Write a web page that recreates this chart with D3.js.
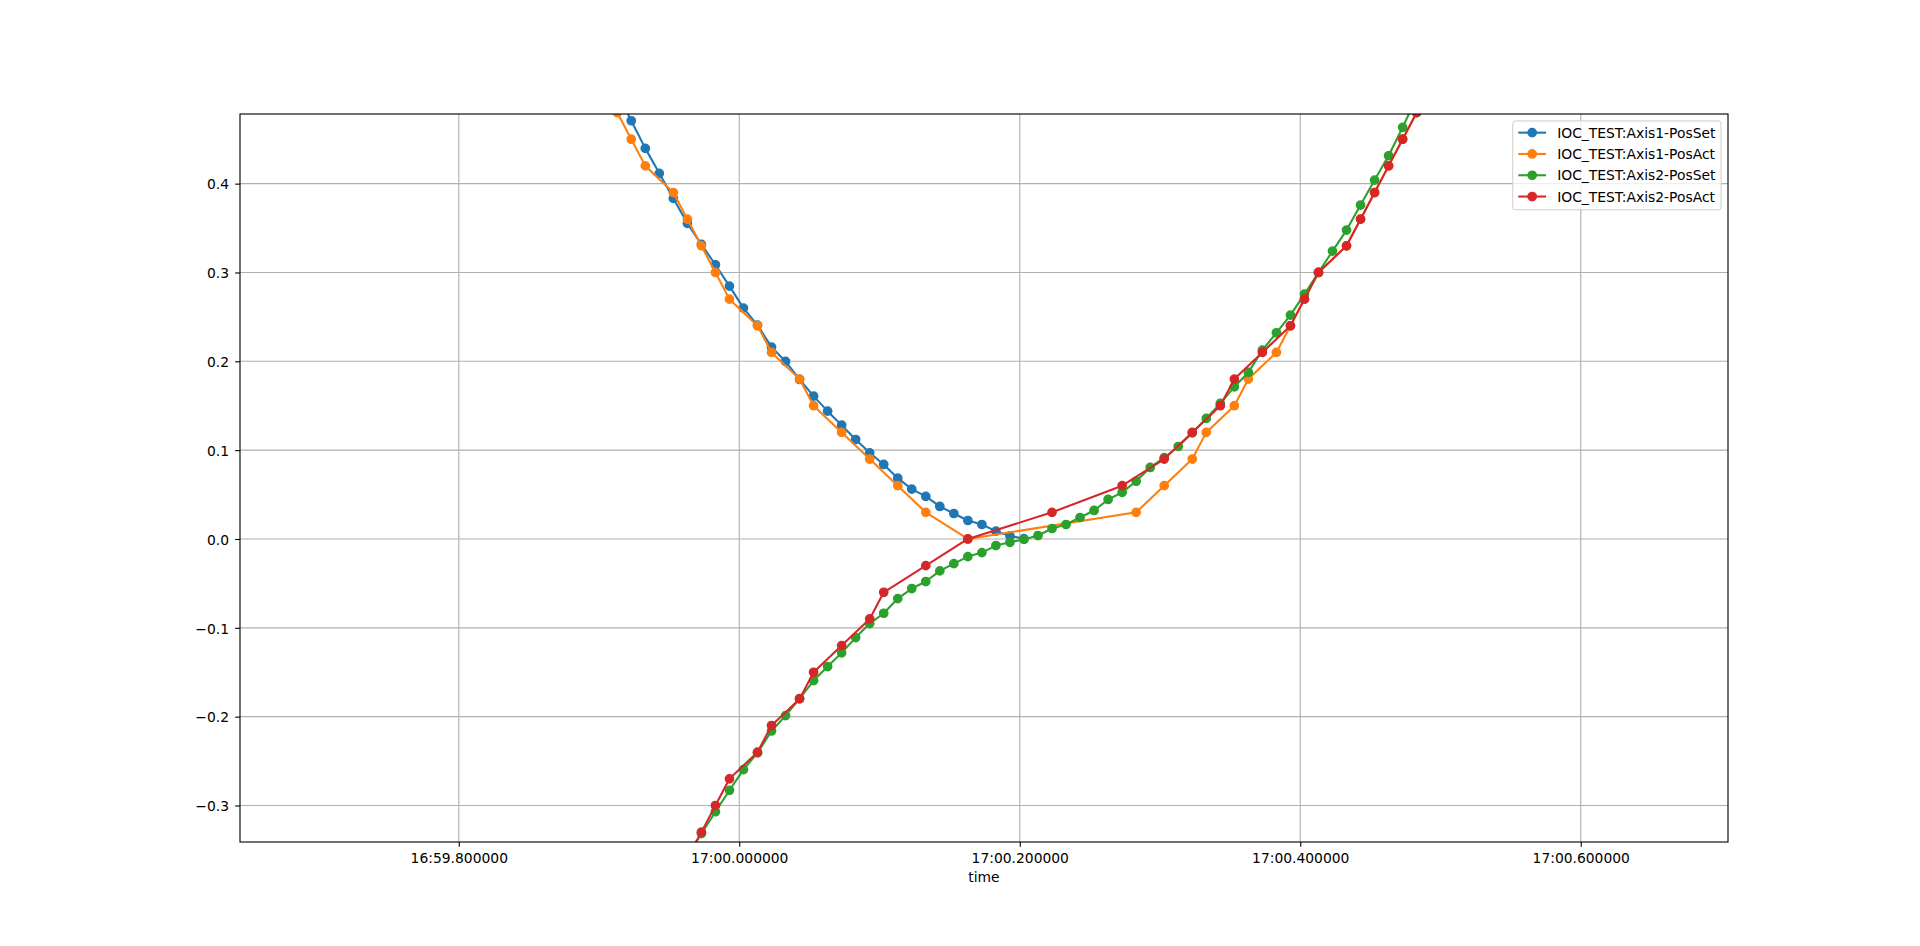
<!DOCTYPE html>
<html>
<head>
<meta charset="utf-8">
<script src="https://cdn.jsdelivr.net/npm/d3@7"></script>
<style>
html,body{margin:0;padding:0;background:#ffffff;}
svg{display:block;font-family:"DejaVu Sans",sans-serif;}
</style>
</head>
<body>
<svg id="chart" width="1920" height="946"></svg>
<script>
// ---------------- DATA ----------------
const seriesNames = ["IOC_TEST:Axis1-PosSet", "IOC_TEST:Axis1-PosAct", "IOC_TEST:Axis2-PosSet", "IOC_TEST:Axis2-PosAct"];
const seriesColors = ["#1f77b4", "#ff7f0e", "#2ca02c", "#d62728"];

const axis1PosSetTimes = ["16:59.913","16:59.923","16:59.933","16:59.943","16:59.953","16:59.963","16:59.973","16:59.983","16:59.993",
  "17:00.003","17:00.013","17:00.023","17:00.033","17:00.043","17:00.053","17:00.063","17:00.073","17:00.083","17:00.093",
  "17:00.103","17:00.113","17:00.123","17:00.133","17:00.143","17:00.153","17:00.163","17:00.173","17:00.183","17:00.193","17:00.203"];
const axis1PosSetValues = [0.503, 0.4708, 0.4397, 0.4116, 0.3834, 0.3553, 0.3316, 0.3087, 0.2847,
  0.2599, 0.2408, 0.2160, 0.1999, 0.1796, 0.1608, 0.1439, 0.1281, 0.1120, 0.0970,
  0.0839, 0.0685, 0.0561, 0.0479, 0.0366, 0.0287, 0.0208, 0.0163, 0.0088, 0.0035, 0.0003];

const axis1PosActTimes = ["16:59.903","16:59.913","16:59.923","16:59.933","16:59.953","16:59.963","16:59.973","16:59.983","16:59.993",
  "17:00.013","17:00.023","17:00.043","17:00.053","17:00.073","17:00.093","17:00.113","17:00.133","17:00.163",
  "17:00.283","17:00.303","17:00.323","17:00.333","17:00.353","17:00.363","17:00.383",
  "17:00.393","17:00.403","17:00.413","17:00.433","17:00.443","17:00.453","17:00.463","17:00.473","17:00.483","17:00.493"];
const axis1PosActValues = [0.51, 0.48, 0.45, 0.42, 0.39, 0.36, 0.33, 0.30, 0.27,
  0.24, 0.21, 0.18, 0.15, 0.12, 0.09, 0.06, 0.03, 0.00,
  0.03, 0.06, 0.09, 0.12, 0.15, 0.18, 0.21,
  0.24, 0.27, 0.30, 0.33, 0.36, 0.39, 0.42, 0.45, 0.48, 0.51];

const axis2PosSetTimes = ["16:59.963","16:59.973","16:59.983","16:59.993",
  "17:00.003","17:00.013","17:00.023","17:00.033","17:00.043","17:00.053","17:00.063","17:00.073","17:00.083","17:00.093",
  "17:00.103","17:00.113","17:00.123","17:00.133","17:00.143","17:00.153","17:00.163","17:00.173","17:00.183","17:00.193",
  "17:00.203","17:00.213","17:00.223","17:00.233","17:00.243","17:00.253","17:00.263","17:00.273","17:00.283","17:00.293",
  "17:00.303","17:00.313","17:00.323","17:00.333","17:00.343","17:00.353","17:00.363","17:00.373","17:00.383","17:00.393",
  "17:00.403","17:00.413","17:00.423","17:00.433","17:00.443","17:00.453","17:00.463","17:00.473","17:00.483"];
const axis2PosSetValues = [-0.3553, -0.3316, -0.3070, -0.2829,
  -0.2596, -0.2408, -0.2161, -0.1988, -0.1796, -0.1594, -0.1436, -0.1282, -0.1110, -0.0952,
  -0.0836, -0.0671, -0.0558, -0.0479, -0.0359, -0.0277, -0.0198, -0.0153, -0.0074, -0.0037,
  -0.0005, 0.0039, 0.0118, 0.0163, 0.0242, 0.0321, 0.0445, 0.0524, 0.0650, 0.0805,
  0.0915, 0.1041, 0.1195, 0.1357, 0.1526, 0.1713, 0.1875, 0.2126, 0.2321, 0.2520,
  0.2757, 0.3000, 0.3241, 0.3477, 0.3759, 0.4040, 0.4314, 0.4634, 0.4970];

const axis2PosActTimes = ["16:59.963","16:59.973","16:59.983","16:59.993",
  "17:00.013","17:00.023","17:00.043","17:00.053","17:00.073","17:00.093","17:00.103","17:00.133","17:00.163",
  "17:00.223","17:00.273","17:00.303","17:00.323","17:00.343","17:00.353","17:00.373",
  "17:00.393","17:00.403","17:00.413","17:00.433","17:00.443","17:00.453","17:00.463","17:00.473","17:00.483","17:00.493"];
const axis2PosActValues = [-0.36, -0.33, -0.30, -0.27,
  -0.24, -0.21, -0.18, -0.15, -0.12, -0.09, -0.06, -0.03, 0.00,
  0.03, 0.06, 0.09, 0.12, 0.15, 0.18, 0.21,
  0.24, 0.27, 0.30, 0.33, 0.36, 0.39, 0.42, 0.45, 0.48, 0.51];

const xTickLabels = ["16:59.800000", "17:00.000000", "17:00.200000", "17:00.400000", "17:00.600000"];
const yTickValues = [-0.3, -0.2, -0.1, 0.0, 0.1, 0.2, 0.3, 0.4];
const xDomainLabels = ["16:59.644300", "17:00.705600"];
const yDomain = [-0.3411, 0.4784];
const xAxisLabel = "time";

// ---------------- LAYOUT ----------------
const W = 1920, H = 946;
const plot = {left: 240, top: 114, right: 1728, bottom: 842};
const FS = 13.89;
const pt = 100 / 72;

const parseT = d3.utcParse("%M:%S.%L");
const parseTick = d3.utcParse("%M:%S.%f");
const fmtTick = d3.utcFormat("%M:%S.%f");

const x = d3.scaleUtc()
  .domain(xDomainLabels.map(parseTick))
  .range([plot.left, plot.right]);
const y = d3.scaleLinear()
  .domain(yDomain)
  .range([plot.bottom, plot.top]);

const svg = d3.select("#chart");
svg.append("rect").attr("width", W).attr("height", H).attr("fill", "#fff");

svg.append("defs").append("clipPath").attr("id", "plotclip")
  .append("rect")
  .attr("x", plot.left).attr("y", plot.top)
  .attr("width", plot.right - plot.left).attr("height", plot.bottom - plot.top);

// grid
const xTicks = xTickLabels.map(parseTick);
const grid = svg.append("g");
grid.selectAll("line.gx").data(xTicks).enter().append("line")
  .attr("x1", d => x(d)).attr("x2", d => x(d))
  .attr("y1", plot.top).attr("y2", plot.bottom)
  .attr("stroke", "#b0b0b0").attr("stroke-width", 0.8 * pt);
grid.selectAll("line.gy").data(yTickValues).enter().append("line")
  .attr("x1", plot.left).attr("x2", plot.right)
  .attr("y1", d => y(d)).attr("y2", d => y(d))
  .attr("stroke", "#b0b0b0").attr("stroke-width", 0.8 * pt);

// series
const series = [
  {times: axis1PosSetTimes, values: axis1PosSetValues},
  {times: axis1PosActTimes, values: axis1PosActValues},
  {times: axis2PosSetTimes, values: axis2PosSetValues},
  {times: axis2PosActTimes, values: axis2PosActValues}
].map((s, i) => ({
  name: seriesNames[i],
  color: seriesColors[i],
  pts: s.times.map((t, j) => ({t: parseT(t), v: s.values[j]}))
}));

const line = d3.line().x(d => x(d.t)).y(d => y(d.v));
const dataG = svg.append("g").attr("clip-path", "url(#plotclip)");
series.forEach(s => {
  const g = dataG.append("g");
  g.append("path").datum(s.pts)
    .attr("d", line)
    .attr("fill", "none")
    .attr("stroke", s.color)
    .attr("stroke-width", 1.5 * pt)
    .attr("stroke-linejoin", "round")
    .attr("stroke-linecap", "square");
  g.selectAll("circle").data(s.pts).enter().append("circle")
    .attr("cx", d => x(d.t)).attr("cy", d => y(d.v))
    .attr("r", 3 * pt)
    .attr("fill", s.color)
    .attr("stroke", s.color)
    .attr("stroke-width", 1.0 * pt);
});

// axes
const xAxis = d3.axisBottom(x).tickValues(xTicks).tickFormat(fmtTick)
  .tickSize(3.5 * pt).tickPadding(3.5 * pt);
const gx = svg.append("g").attr("transform", `translate(0,${plot.bottom})`).call(xAxis);
gx.select(".domain").remove();
gx.selectAll(".tick line").attr("stroke", "#000").attr("stroke-width", 0.8 * pt);
gx.selectAll(".tick text")
  .attr("font-family", "DejaVu Sans").attr("font-size", FS).attr("fill", "#000")
  .attr("dy", null).attr("y", 863.3 - plot.bottom);

const yAxis = d3.axisLeft(y).tickValues(yTickValues)
  .tickFormat(d => d3.format(".1f")(d).replace("-", "\u2212"))
  .tickSize(3.5 * pt).tickPadding(3.5 * pt);
const gy = svg.append("g").attr("transform", `translate(${plot.left},0)`).call(yAxis);
gy.select(".domain").remove();
gy.selectAll(".tick line").attr("stroke", "#000").attr("stroke-width", 0.8 * pt);
gy.selectAll(".tick text")
  .attr("font-family", "DejaVu Sans").attr("font-size", FS).attr("fill", "#000")
  .attr("dy", null).attr("y", 5.3).attr("x", 229 - plot.left);

// spines
svg.append("rect")
  .attr("x", plot.left).attr("y", plot.top)
  .attr("width", plot.right - plot.left).attr("height", plot.bottom - plot.top)
  .attr("fill", "none").attr("stroke", "#000").attr("stroke-width", 0.8 * pt);

// x label
svg.append("text")
  .attr("x", (plot.left + plot.right) / 2).attr("y", 882.3)
  .attr("text-anchor", "middle")
  .attr("font-size", FS).attr("fill", "#000")
  .text(xAxisLabel);

// legend
const leg = svg.append("g");
const legRight = plot.right - 0.5 * FS;
const legTop = plot.top + 0.5 * FS;
const borderPad = 0.4 * FS, handleLen = 2.0 * FS, handlePad = 0.8 * FS;
const rowStep = 21.3, firstRow = legTop + 11.7;
const frame = leg.append("rect");
const texts = leg.selectAll("text").data(series).enter().append("text")
  .attr("font-size", FS).attr("fill", "#000")
  .text(d => d.name);
let maxW = 0;
texts.each(function(){ maxW = Math.max(maxW, this.getComputedTextLength()); });
const legWidth = borderPad + handleLen + handlePad + maxW + borderPad;
const legLeft = legRight - legWidth;
const legBottom = firstRow + rowStep * (series.length - 1) + 13.3;
frame.attr("x", legLeft).attr("y", legTop)
  .attr("width", legWidth).attr("height", legBottom - legTop)
  .attr("rx", 0.2 * FS).attr("ry", 0.2 * FS)
  .attr("fill", "#fff").attr("fill-opacity", 0.8)
  .attr("stroke", "#cccccc").attr("stroke-width", 1.0);
texts.attr("x", legLeft + borderPad + handleLen + handlePad)
  .attr("y", (d, i) => firstRow + i * rowStep + 5);
series.forEach((s, i) => {
  const cy = firstRow + i * rowStep;
  const hx = legLeft + borderPad;
  leg.append("line")
    .attr("x1", hx).attr("x2", hx + handleLen)
    .attr("y1", cy).attr("y2", cy)
    .attr("stroke", s.color).attr("stroke-width", 1.5 * pt);
  leg.append("circle")
    .attr("cx", hx + handleLen / 2).attr("cy", cy)
    .attr("r", 3 * pt)
    .attr("fill", s.color).attr("stroke", s.color).attr("stroke-width", 1.0 * pt);
});
</script>
</body>
</html>
